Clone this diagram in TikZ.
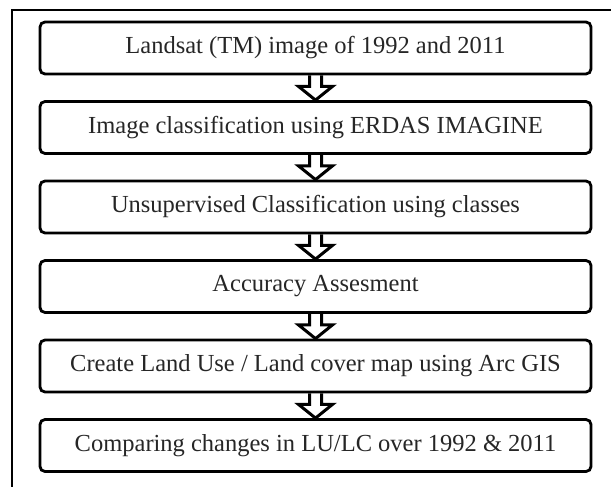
\documentclass[tikz,border=0pt]{standalone}
\usepackage{fontspec}
\setmainfont{Liberation Serif}
\usetikzlibrary{calc}

\begin{document}
\begin{tikzpicture}[x=1pt,y=1pt,yscale=-1,xscale=1,
  stepbox/.style={draw, line width=2.8pt, rounded corners=5pt, minimum width=551pt, minimum height=52pt, inner sep=0pt, text=black!85, font=\fontsize{24.5}{28}\selectfont},
  hollowarrow/.style={draw, line width=3pt, line join=miter}]
\useasboundingbox (0,0) rectangle (611,487);

%Straight Lines [frame]
\draw [line width=2pt] (12,490) -- (12,10) -- (614,10) ;

% Text Node
\node [stepbox] (landsat) at (315.5,48) {Landsat (TM) image of 1992 and 2011};
% Text Node
\node [stepbox] (classify) at (315.5,127.5) {Image classification using ERDAS IMAGINE};
% Text Node
\node [stepbox] (unsup) at (315.5,207) {Unsupervised Classification using classes};
% Text Node
\node [stepbox] (accuracy) at (315.5,286.5) {Accuracy Assesment};
% Text Node
\node [stepbox] (lulcmap) at (315.5,366) {Create Land Use / Land cover map using Arc GIS};
% Text Node
\node [stepbox] (compare) at (315.5,445.5) {Comparing changes in LU/LC over 1992 \& 2011};

%Block Arrows
\foreach \a/\b in {landsat/classify, classify/unsup, unsup/accuracy, accuracy/lulcmap, lulcmap/compare}{
  \draw [hollowarrow] ($(\a.south)+(-6,0)$) -- ($(\a.south)+(-6,11)$) -- ($(\a.south)+(-17,11)$) -- (\b.north) -- ($(\a.south)+(17,11)$) -- ($(\a.south)+(6,11)$) -- ($(\a.south)+(6,0)$) ;
}

\end{tikzpicture}
\end{document}
